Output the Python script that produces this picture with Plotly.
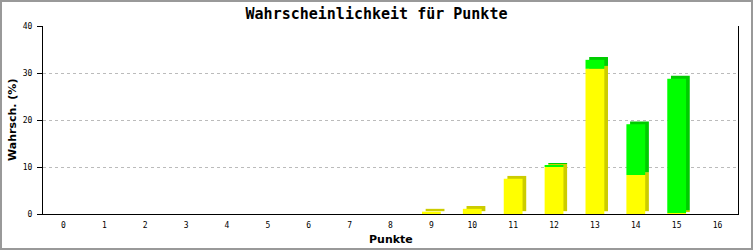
import plotly.graph_objects as go

# ---- data ----
categories = list(range(0, 17))
tick_labels = [str(c) for c in categories]
yellow_vals = [0, 0, 0, 0, 0, 0, 0, 0, 0, 0.5, 1.1, 7.5, 10.1, 30.9, 8.3, 0.2, 0]
green_vals  = [0, 0, 0, 0, 0, 0, 0, 0, 0, 0, 0, 0, 0.15, 1.9, 10.8, 28.6, 0]

title_text = "Wahrscheinlichkeit für Punkte"
x_title = "Punkte"
y_title = "Wahrsch. (%)"

# ---- style ----
W, H = 753, 250
ML, MR, MT, MB = 43, 15, 26, 36
bar_w = 0.46
dx = 0.09    # depth offset in category units
dy = 0.6     # depth offset in value units
YEL, YEL_D = "#ffff00", "#cccc00"
GRN, GRN_D = "#00ff00", "#00cc00"

green_base = yellow_vals

fig = go.Figure()

def add_bar(vals, base, color, shadow):
    b = [bb + (dy if shadow else 0) for bb in base]
    fig.add_trace(go.Bar(
        x=categories, y=vals, base=b,
        width=bar_w,
        offset=(-bar_w / 2 + (dx if shadow else 0)),
        marker=dict(color=color, line=dict(width=0)),
        showlegend=False, hoverinfo="skip",
    ))

zeros = [0] * len(categories)
add_bar(yellow_vals, zeros, YEL_D, True)
add_bar(yellow_vals, zeros, YEL, False)
add_bar(green_vals, green_base, GRN_D, True)
add_bar(green_vals, green_base, GRN, False)

pw = W - ML - MR
ph = H - MT - MB

axis_title_font = dict(family="DejaVu Sans", size=11, color="black", weight="bold")

fig.update_layout(
    width=W, height=H,
    margin=dict(l=ML, r=MR, t=MT, b=MB, pad=0),
    barmode="overlay",
    paper_bgcolor="white", plot_bgcolor="white",
    title=dict(text=title_text, x=0.5, xanchor="center", y=1 - 14 / H, yanchor="middle",
               font=dict(family="DejaVu Sans Mono", size=15, color="black", weight="bold")),
    xaxis=dict(
        range=[-0.5, 16.5], tickmode="array", tickvals=categories, ticktext=tick_labels,
        showline=True, linecolor="black", linewidth=1, mirror=False,
        showgrid=False, zeroline=False, ticks="",
        ticklabelstandoff=3, automargin=False,
        tickfont=dict(family="DejaVu Sans Mono", size=8, color="black"),
    ),
    yaxis=dict(
        range=[0, 40], tickvals=[0, 10, 20, 30, 40],
        showline=True, linecolor="black", linewidth=1, mirror=True,
        showgrid=True, gridcolor="#bbbbbb", griddash="dot", gridwidth=1,
        zeroline=False, ticks="outside", ticklen=5, tickcolor="black",
        ticklabelstandoff=3, automargin=False,
        tickfont=dict(family="DejaVu Sans Mono", size=8, color="black"),
    ),
    annotations=[
        dict(text=x_title, xref="paper", yref="paper", x=0.5, y=0,
             xanchor="center", yanchor="middle", yshift=-25, showarrow=False,
             font=axis_title_font),
        dict(text=y_title, xref="paper", yref="paper", x=0, y=0.5,
             xanchor="center", yanchor="middle", xshift=-31, textangle=-90,
             showarrow=False, font=axis_title_font),
    ],
    shapes=[dict(
        type="rect", xref="paper", yref="paper",
        x0=-(ML - 1) / pw, x1=1 + (MR - 1) / pw,
        y0=-(MB - 1) / ph, y1=1 + (MT - 1) / ph,
        line=dict(color="#999999", width=2), fillcolor="rgba(0,0,0,0)", layer="below",
    )],
)

fig.write_html("out.html")
